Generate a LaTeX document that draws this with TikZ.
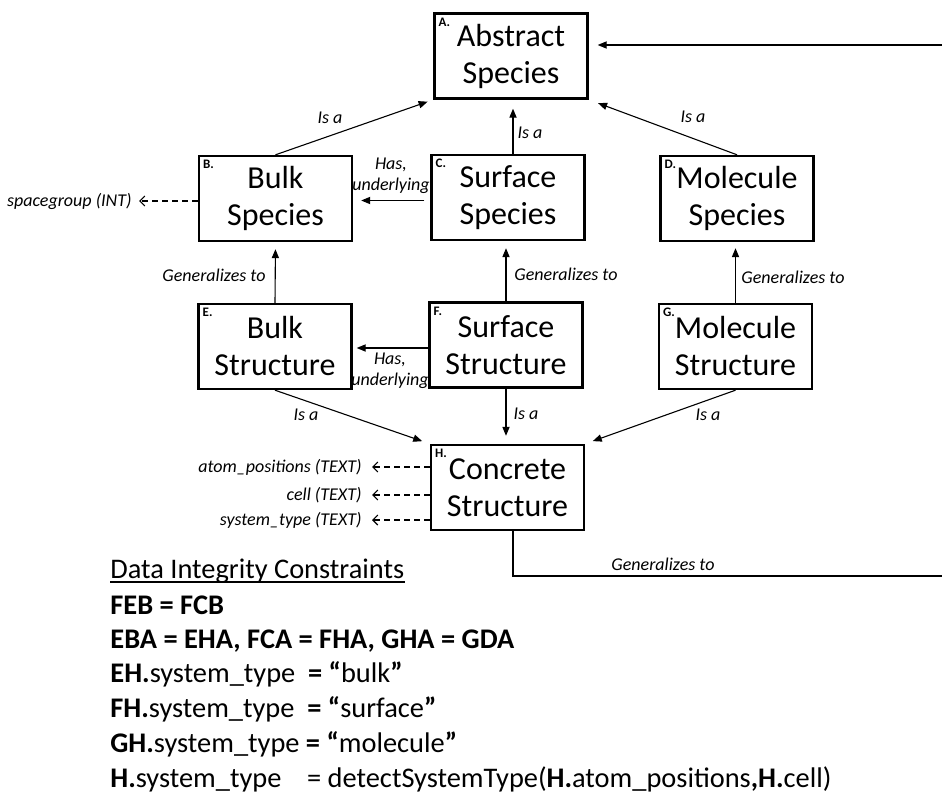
\documentclass[tikz,border=0pt]{standalone}
\usepackage{fontspec}
\setmainfont{Carlito}
\usetikzlibrary{arrows.meta}

\tikzset{
  box/.style={draw, line width=1.2pt, minimum width=76.5pt, minimum height=42.5pt, align=center, inner sep=0pt, font=\fontsize{16}{18.5}\selectfont},
  tag/.style={label={[anchor=north west, inner sep=2.5pt, font=\bfseries\fontsize{6.5}{7}\selectfont]north west:#1}},
  rel/.style={-{Triangle[length=4.5pt,width=3.6pt]}, line width=0.55pt},
  attr/.style={-{Straight Barb[length=2.5pt,width=5pt]}, dash pattern=on 3pt off 2pt, line width=0.55pt},
  lbl/.style={font=\itshape\fontsize{9}{10.5}\selectfont, inner sep=1pt, align=center},
  cons/.style={anchor=base west, inner sep=0pt, font=\fontsize{14.2}{17}\selectfont}
}

\begin{document}
\begin{tikzpicture}[x=0.5pt, y=-0.5pt]
\useasboundingbox (0,0) rectangle (942,792);
\node [box, tag=A.] (A) at (511,56) {Abstract\\Species};
\node [box, tag=B.] (B) at (275.5,198.5) {Bulk\\Species};
\node [box, tag=C.] (C) at (508,197.5) {Surface\\Species};
\node [box, tag=D.] (D) at (737,198.5) {Molecule\\Species};
\node [box, tag=E.] (E) at (275,346.5) {Bulk\\Structure};
\node [box, tag=F.] (F) at (506,345) {Surface\\Structure};
\node [box, tag=G.] (G) at (735.5,346.5) {Molecule\\Structure};
\node [box, tag=H.] (H) at (507.5,487.5) {Concrete\\Structure};

\node [lbl] (isaBA) at (330,118) {Is a};
\node [lbl] (isaCA) at (530,133) {Is a};
\node [lbl] (isaDA) at (693,117) {Is a};
\node [lbl] (hasCB) at (391,176) {Has,\\underlying};
\node [lbl] (genEB) at (214,275) {Generalizes to};
\node [lbl] (genFC) at (566,274) {Generalizes to};
\node [lbl] (genGD) at (793,277) {Generalizes to};
\node [lbl] (hasFE) at (390,371) {Has,\\underlying};
\node [lbl] (isaEH) at (306,415) {Is a};
\node [lbl] (isaFH) at (526,414) {Is a};
\node [lbl] (isaGH) at (708,415) {Is a};
\node [lbl] (genHA) at (663,564) {Generalizes to};

\draw [rel, shorten >=3pt] (B.north) -- (A.south west);
\draw [rel, shorten >=4.5pt] ([xshift=2.5pt]C.north) -- ([xshift=2.5pt]C.north |- A.south);
\draw [rel, shorten >=5pt] (D.north) -- (A.south east);
\draw [rel, shorten >=4pt, shorten <=3pt] ([yshift=-1.5pt]C.west) -- ([yshift=-1.5pt]C.west -| B.east);
\draw [rel, shorten >=3.5pt] (E.north) -- (B.south);
\draw [rel, shorten >=3.5pt] (F.north) -- (F.north |- C.south);
\draw [rel, shorten >=3pt] (G.north) -- (G.north |- D.south);
\draw [rel, shorten >=2pt] ([yshift=-1.5pt]F.west) -- ([yshift=-1.5pt]F.west -| E.east);
\draw [rel, shorten >=4pt] (E.south) -- (H.north west);
\draw [rel, shorten >=4pt] (F.south) -- (F.south |- H.north);
\draw [rel, shorten >=4pt] (G.south) -- (H.north east);

\coordinate (bend) at (950,576);
\coordinate (back) at (950,45);
\draw [rel, shorten >=4.5pt] ([xshift=2.75pt]H.south) |- (bend) -- (back) -- (back -| A.east);

\node [lbl, anchor=east] (spg) at (134,201) {spacegroup (INT)};
\draw [attr, shorten >=2.5pt] (B.west |- spg) -- (spg.east);
\node [lbl, anchor=east] (apos) at (364,467) {atom\_positions (TEXT)};
\node [lbl, anchor=east] (cell) at (364,495) {cell (TEXT)};
\node [lbl, anchor=east] (stype) at (364,520) {system\_type (TEXT)};
\foreach \a in {apos,cell,stype}
  \draw [attr, shorten >=4pt] (H.west |- \a) -- (\a.east);

\node [cons] (title) at (110,578) {Data Integrity Constraints};
\draw [line width=0.7pt] ([yshift=-2pt]title.base west) -- ([yshift=-2pt]title.base east);
\node [cons] (c1) at (110,614) {\textbf{FEB = FCB}};
\node [cons] (c2) at (110,648) {\textbf{EBA = EHA, FCA = FHA, GHA = GDA}};
\node [cons] (c3) at (110,682) {\textbf{EH.}system\_type\ \ \textbf{= “}bulk\textbf{”}};
\node [cons] (c4) at (110,717) {\textbf{FH.}system\_type\ \ \textbf{= “}surface\textbf{”}};
\node [cons] (c5) at (110,752) {\textbf{GH.}system\_type \textbf{= “}molecule\textbf{”}};
\node [cons] (c6) at (110,787) {\textbf{H.}system\_type\ \ \ \ = detectSystemType(\textbf{H.}atom\_positions\textbf{,H.}cell)};
\end{tikzpicture}
\end{document}
